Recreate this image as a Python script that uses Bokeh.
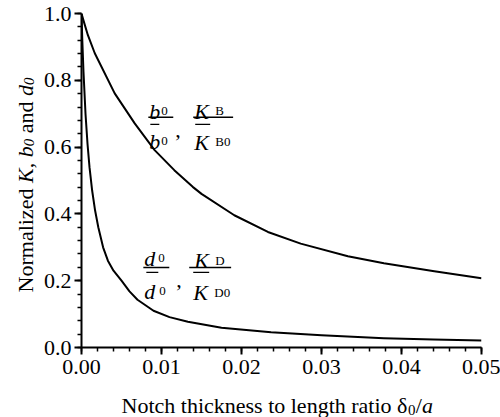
from math import pi
from bokeh.plotting import figure
from bokeh.layouts import row, column
from bokeh.models import Range1d, FixedTicker, Label, PrintfTickFormatter
from bokeh.core.properties import value
from bokeh.embed import file_html
from bokeh.resources import INLINE

# ---- data ----
ratio_b = [0.0, 0.0003, 0.0008, 0.00166, 0.00415, 0.00665, 0.00914, 0.0116, 0.0139,
           0.015, 0.0191, 0.0233, 0.0274, 0.0333, 0.0378, 0.0441, 0.05]
norm_b = [1.0, 0.975, 0.935, 0.881, 0.761, 0.671, 0.591, 0.531, 0.481,
          0.460, 0.396, 0.346, 0.311, 0.273, 0.252, 0.228, 0.207]

ratio_d = [0.0, 0.0001, 0.00025, 0.0005, 0.00075, 0.001, 0.00133, 0.0017, 0.0021,
           0.0027, 0.0033, 0.004, 0.005, 0.006, 0.007, 0.009, 0.011, 0.0133,
           0.0175, 0.0237, 0.03, 0.0378, 0.044, 0.05]
norm_d = [1.0, 0.92, 0.825, 0.70, 0.61, 0.54, 0.47, 0.41, 0.36,
          0.30, 0.26, 0.23, 0.20, 0.168, 0.143, 0.110, 0.091, 0.077,
          0.059, 0.046, 0.037, 0.028, 0.024, 0.021]

x_ticks = [0.0, 0.01, 0.02, 0.03, 0.04, 0.05]
x_minor = [0.0, 0.002, 0.004, 0.006, 0.008, 0.01, 0.012, 0.014, 0.016, 0.018, 0.02,
           0.022, 0.024, 0.026, 0.028, 0.03, 0.032, 0.034, 0.036, 0.038, 0.04,
           0.042, 0.044, 0.046, 0.048, 0.05]
y_ticks = [0.0, 0.2, 0.4, 0.6, 0.8, 1.0]
y_minor = [0.0, 0.04, 0.08, 0.12, 0.16, 0.2, 0.24, 0.28, 0.32, 0.36, 0.4, 0.44, 0.48,
           0.52, 0.56, 0.6, 0.64, 0.68, 0.72, 0.76, 0.8, 0.84, 0.88, 0.92, 0.96, 1.0]

FONT = "Liberation Serif"
BIG = 22
SMALL = 13

# layout sizes
YT_W = 40                 # width of the y-title strip
MAIN_W, MAIN_H = 460, 385
XT_H = 32                 # height of the x-title strip
BL, BR, BT, BB = 40, 19, 13, 38
FW, FH = MAIN_W - BL - BR, MAIN_H - BT - BB
FX = 0.05 / FW
FY = 1.0 / FH

p = figure(width=MAIN_W, height=MAIN_H, x_range=Range1d(0, 0.05), y_range=Range1d(0, 1.0),
           output_backend="svg", toolbar_location=None,
           min_border_left=BL, min_border_right=BR, min_border_top=BT, min_border_bottom=BB)
p.outline_line_color = None
p.grid.visible = False
p.background_fill_color = "white"

for ax in (p.xaxis[0], p.yaxis[0]):
    ax.axis_line_width = 2
    ax.axis_line_color = "black"
    ax.major_tick_line_width = 2
    ax.minor_tick_line_width = 1.5
    ax.major_tick_line_color = "black"
    ax.minor_tick_line_color = "black"
    ax.major_tick_in = 0
    ax.major_tick_out = 7
    ax.minor_tick_in = 0
    ax.minor_tick_out = 4
    ax.major_label_text_font = FONT
    ax.major_label_text_font_size = f"{BIG}px"
    ax.major_label_text_color = "black"

p.xaxis.ticker = FixedTicker(ticks=x_ticks, minor_ticks=x_minor)
p.yaxis.ticker = FixedTicker(ticks=y_ticks, minor_ticks=y_minor)
p.xaxis.formatter = PrintfTickFormatter(format="%.2f")
p.yaxis.formatter = PrintfTickFormatter(format="%.1f")
p.xaxis.major_label_standoff = 5
p.yaxis.major_label_standoff = 3

p.line(ratio_b, norm_b, line_width=2, line_color="black", line_join="round")
p.line(ratio_d, norm_d, line_width=2, line_color="black", line_join="round")


def rx(px):
    return (px - 80) / 401 * 0.05


def ry(py):
    return (347 - py) / 333.7


def piece(ax, ay, text, dx, dy, size, style="normal"):
    p.add_layout(Label(x=ax, y=ay, x_offset=dx, y_offset=dy, text=text,
                       text_font=FONT, text_font_size=f"{size}px",
                       text_font_style=style, text_color="black",
                       text_align="left", text_baseline="alphabetic"))


def rule(ax, ay, dx0, dx1, dy, width=1.4):
    p.segment(x0=[ax + dx0 * FX], y0=[ay + dy * FY], x1=[ax + dx1 * FX], y1=[ay + dy * FY],
              line_color="black", line_width=width)


# ---- upper annotation ----
ax_u, ay_u = rx(147), ry(117)
piece(ax_u, ay_u, "b", 1, 6, BIG, "italic")
piece(ax_u, ay_u, "0", 13, 6, SMALL)
rule(ax_u, ay_u, 0, 25, 0)
rule(ax_u, ay_u, 2, 11, -7, 1.2)
piece(ax_u, ay_u, "b", 1, -24, BIG, "italic")
piece(ax_u, ay_u, "0", 13, -24, SMALL)
piece(ax_u, ay_u, ",", 27, -13, BIG)
piece(ax_u, ay_u, "K", 46, 6, BIG, "italic")
piece(ax_u, ay_u, "B", 67, 7, SMALL)
rule(ax_u, ay_u, 45, 85, 0)
rule(ax_u, ay_u, 47, 62, -7, 1.2)
piece(ax_u, ay_u, "K", 46, -25, BIG, "italic")
piece(ax_u, ay_u, "B0", 67, -24, SMALL)

# ---- lower annotation ----
ax_l, ay_l = rx(142), ry(267)
piece(ax_l, ay_l, "d", 1, 9, BIG, "italic")
piece(ax_l, ay_l, "0", 15, 9, SMALL)
rule(ax_l, ay_l, 0, 26, 0)
rule(ax_l, ay_l, 3, 15, -5, 1.2)
piece(ax_l, ay_l, "d", 1, -24, BIG, "italic")
piece(ax_l, ay_l, "0", 16, -24, SMALL)
piece(ax_l, ay_l, ",", 33, -13, BIG)
piece(ax_l, ay_l, "K", 51, 7, BIG, "italic")
piece(ax_l, ay_l, "D", 72, 7, SMALL)
rule(ax_l, ay_l, 46, 88, 0)
rule(ax_l, ay_l, 50, 66, -5, 1.2)
piece(ax_l, ay_l, "K", 50, -25, BIG, "italic")
piece(ax_l, ay_l, "D0", 71, -25, SMALL)


def stext(f, x, y, t, size, style="normal", angle=0.0):
    f.text(x=[x], y=[y], text=[t], text_font=value(FONT), text_font_size=value(f"{size}px"),
           text_font_style=style, text_color="black", text_align="left",
           text_baseline="alphabetic", angle=angle)


# ---- y axis title strip: shares the main y range and the main frame's borders ----
yt = figure(width=YT_W, height=MAIN_H, x_range=Range1d(0, YT_W), y_range=p.y_range,
            output_backend="svg", toolbar_location=None, x_axis_type=None, y_axis_type=None,
            min_border_left=0, min_border_right=0, min_border_top=BT, min_border_bottom=BB)
yt.outline_line_color = None
yt.grid.visible = False
base_x, start_y = 25, ry(292)
ypieces = [("Normalized", 0.0, 0, BIG, "normal"),
           ("K", 109.4, 0, BIG, "italic"),
           (",", 124.1, 0, BIG, "normal"),
           ("b", 135.1, 0, BIG, "italic"),
           ("0", 146.1, 3, 15, "italic"),
           ("and", 159.1, 0, BIG, "normal"),
           ("d", 196.4, 0, BIG, "italic"),
           ("0", 207.4, 3, 15, "italic")]
for t, along, sub, sz, st in ypieces:
    stext(yt, base_x + sub, start_y + along * FY, t, sz, st, angle=pi / 2)

# ---- x axis title strip ----
xt = figure(width=YT_W + MAIN_W, height=XT_H, x_range=Range1d(0, YT_W + MAIN_W),
            y_range=Range1d(0, XT_H), output_backend="svg", toolbar_location=None,
            x_axis_type=None, y_axis_type=None, min_border=0)
xt.outline_line_color = None
xt.grid.visible = False
bx, by = 121, XT_H - 20
stext(xt, bx, by, "Notch thickness to length ratio", BIG)
stext(xt, bx + 275.6, by, "\u03b4", BIG)
stext(xt, bx + 286.6, by - 4, "0", 15)
stext(xt, bx + 294.3, by, "/", BIG)
stext(xt, bx + 300.4, by, "a", BIG, "italic")

layout = column(row(yt, p, spacing=0), xt, spacing=0)
open("out.html", "w").write(file_html(layout, INLINE))
